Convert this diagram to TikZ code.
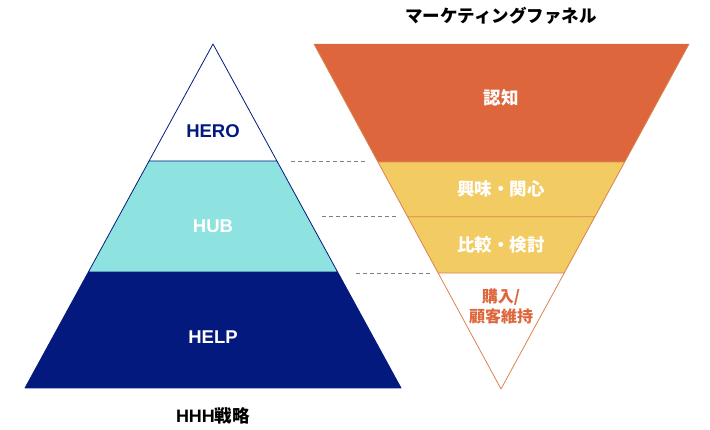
\documentclass[tikz,border=0pt]{standalone}
\usepackage{fontspec}
\setmainfont{Noto Sans CJK JP}
\newfontfamily\latinfont{Liberation Sans}
\usetikzlibrary{calc}
\definecolor{hhhnavy}{HTML}{03197E}
\definecolor{hubcyan}{HTML}{8EE3E1}
\definecolor{funorange}{HTML}{DD663C}
\definecolor{funyellow}{HTML}{F3CB63}
\definecolor{funline}{HTML}{D98350}
\definecolor{guidegray}{HTML}{7F7F7F}
\tikzset{
  lbl/.style={font=\fontsize{17.5}{21}\selectfont\bfseries, align=center, inner sep=0pt},
  tier/.style={lbl, font=\fontsize{18.5}{22}\selectfont\latinfont\bfseries},
  guide/.style={guidegray, line width=1pt, dash pattern=on 4pt off 3pt}
}
\begin{document}
\begin{tikzpicture}[x=1pt, y=-1pt, line join=round, line cap=butt]
				\useasboundingbox (0,0) rectangle (710,430);
				% pyramid
				\path
				(213,44) coordinate (T)
				(25,388) coordinate (L)
				(401,388) coordinate (R)
				($(T)!.34!(L)$) coordinate (A1)
				($(T)!.34!(R)$) coordinate (A2)
				($(T)!.663!(L)$) coordinate (B1)
				($(T)!.663!(R)$) coordinate (B2)
				;
				% funnel
				\path
				(314,44) coordinate (F1)
				(689,44) coordinate (F2)
				(501,389) coordinate (V)
				($(F1)!.342!(V)$) coordinate (C1)
				($(F2)!.342!(V)$) coordinate (C2)
				($(F1)!.501!(V)$) coordinate (D1)
				($(F2)!.501!(V)$) coordinate (D2)
				($(F1)!.664!(V)$) coordinate (E1)
				($(F2)!.664!(V)$) coordinate (E2)
				;
				\fill[hubcyan] (A1)--(A2)--(B2)--(B1)--cycle;
				\fill[hhhnavy] (B1)--(B2)--(R)--(L)--cycle;
				\draw[hhhnavy, line width=.8pt] (T)--(L)--(R)--cycle (A1)--(A2) (B1)--(B2);
				\fill[funorange] (F1)--(F2)--(C2)--(C1)--cycle;
				\fill[funyellow] (C1)--(C2)--(E2)--(E1)--cycle;
				\draw[funline, line width=.8pt] (F1)--(V)--(F2) (C1)--(C2) (D1)--(D2) (E1)--(E2);
				% guides
				\foreach \p/\g in {C1/13,D1/12,E1/8}
				\draw[guide] ($(\p)+(-\g-74,0)$) coordinate (g\p) -- ($(\p)+(-\g,0)$) coordinate (h\p);
				% labels
				\node[tier, text=hhhnavy] (hero) at (213,131) {HERO};
				\node[tier, text=white] (hub) at (213,226) {HUB};
				\node[tier, text=white] (help) at (213,337) {HELP};
				\node[lbl] (hhh) at (213,416) {{\latinfont\fontsize{18}{21}\selectfont HHH}戦略};
				\node[lbl] (title) at (501,16) {マーケティングファネル};
				\node[lbl, text=white] (ninchi) at (501,98) {認知};
				\node[lbl, text=white] (kyomi) at (501,189) {興味・関心};
				\node[lbl, text=white] (hikaku) at (501,245) {比較・検討};
				\node[lbl, text=funorange, font=\fontsize{16}{20}\selectfont\bfseries] (konyu) at (501,306) {購入/\\顧客維持};
			\end{tikzpicture}
\end{document}
